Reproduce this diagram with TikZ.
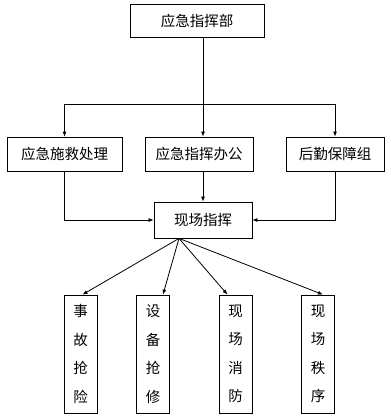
\documentclass[tikz,border=0pt]{standalone}
\usepackage{fontspec}
\newfontfamily\cjk{Noto Sans CJK SC}
\usetikzlibrary{arrows.meta}
\tikzset{
  every node/.style={font=\cjk\fontsize{14.5bp}{28.5bp}\selectfont},
  box/.style={draw, line width=0.8bp, inner sep=0pt, align=center, fill=white},
  colbox/.style={box, minimum width=33bp, minimum height=118bp},
  ln/.style={line width=0.8bp},
  arr/.style={-{Latex[length=5bp, width=4bp]}, line width=0.8bp},
}

\begin{document}
\begin{tikzpicture}[x=1bp, y=-1bp]
\useasboundingbox (0,0) rectangle (391,416);

% --- top: command ---
\node[box, minimum width=134bp, minimum height=33bp] (cmd) at (197,21) {应急指挥部};

% --- second row ---
\node[box, minimum width=115bp, minimum height=34bp] (rescue) at (64.5,154) {应急施救处理};
\node[box, minimum width=108bp, minimum height=34bp] (office) at (199,154) {应急指挥办公};
\node[box, minimum width=98bp, minimum height=34bp] (logist) at (335,154) {后勤保障组};

% --- site command ---
\node[box, minimum width=98bp, minimum height=36bp] (site) at (203,220) {现场指挥};

% --- bottom columns ---
\node[colbox] (repair) at (80.5,354) {事\\故\\抢\\险};
\node[colbox] (equip) at (153,354) {设\\备\\抢\\修};
\node[colbox] (fire) at (235.5,354) {现\\场\\消\\防};
\node[colbox] (order) at (318,354) {现\\场\\秩\\序};

% --- arrows: command down to second row ---
\coordinate (split) at (203,104);
\draw[ln] (cmd.south -| split) -- (split);
\draw[arr] (split) -| (rescue.north);
\draw[arr] (split) -- (office.north -| split);
\draw[arr] (split) -| (logist.north);

% --- arrows: second row into site ---
\draw[arr] (rescue.south) |- (site.west);
\draw[arr] (office.south -| site.north) -- (site.north);
\draw[arr] (logist.south) |- (site.east);

% --- arrows: site fan out ---
\coordinate (fan) at ([xshift=-24bp]site.south);
\draw[arr] (fan) -- ([xshift=2bp]repair.north);
\draw[arr] (fan) -- ([xshift=10bp]equip.north);
\draw[arr] (fan) -- ([xshift=-8bp]fire.north);
\draw[arr] (fan) -- ([xshift=5bp]order.north);

\end{tikzpicture}
\end{document}
